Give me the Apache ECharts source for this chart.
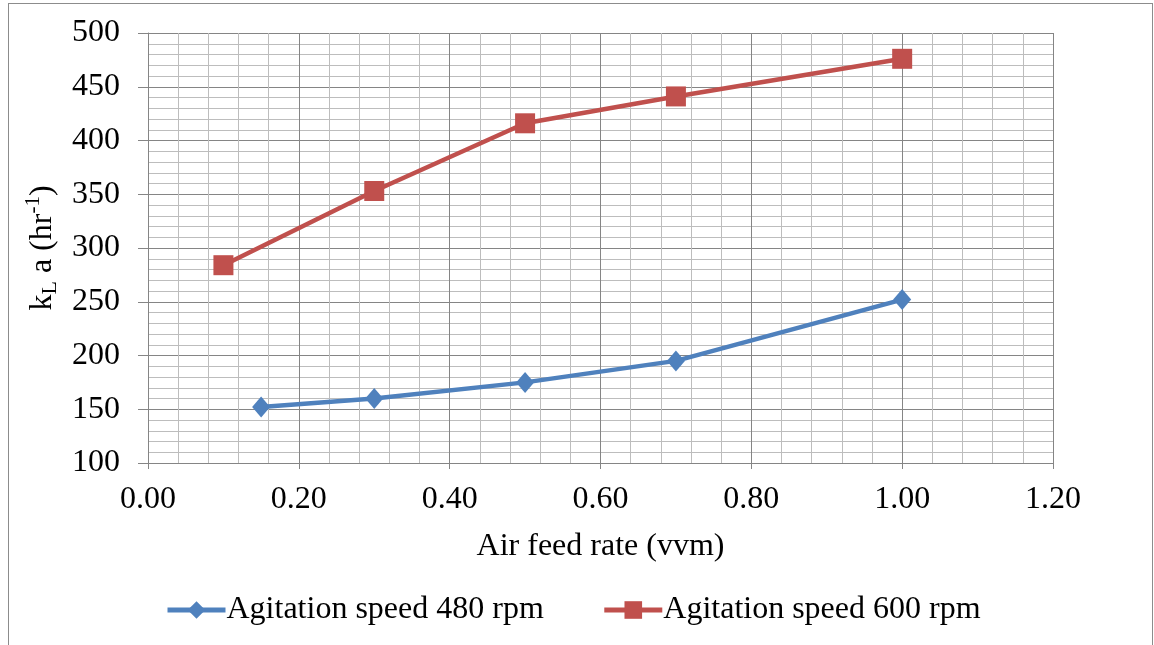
<!DOCTYPE html>
<html><head><meta charset="utf-8">
<script src="https://cdn.jsdelivr.net/npm/echarts@6/dist/echarts.min.js"></script>
<style>
html,body{margin:0;padding:0;background:#fff;overflow:hidden}
#frame{position:absolute;left:8px;top:3px;width:1145px;height:660px;border:1px solid #8c8c8c;box-sizing:border-box}
#c{position:absolute;left:0;top:0;width:1154px;height:645px}
</style></head>
<body>
<div id="frame"></div>
<div id="c"></div>
<script>
const seriesNames = ['Agitation speed 480 rpm', 'Agitation speed 600 rpm'];
const x480 = [0.15, 0.30, 0.50, 0.70, 1.00];
const y480 = [152, 160, 175, 195, 252];
const x600 = [0.10, 0.30, 0.50, 0.70, 1.00];
const y600 = [284, 353, 416, 441, 476];
const xTitle = 'Air feed rate (vvm)';

const font = 'Liberation Serif';
const fs = 32;
const chart = echarts.init(document.getElementById('c'), null, {renderer: 'canvas'});
const pair = (xs, ys) => xs.map((x, i) => [x, ys[i]]);

const majorLine = {show: true, lineStyle: {color: '#858585', width: 1}};
const minorLine = {show: true, lineStyle: {color: '#bdbdbd', width: 1}};

chart.setOption({
  animation: false,
  backgroundColor: 'transparent',
  grid: {left: 148, top: 33, right: 101, bottom: 182, containLabel: false},
  xAxis: {
    type: 'value', min: 0, max: 1.2, interval: 0.2,
    name: xTitle, nameLocation: 'middle', nameGap: 68,
    nameTextStyle: {fontFamily: font, fontSize: fs, color: '#000'},
    axisLine: {show: true, onZero: false, lineStyle: {color: '#858585', width: 1}},
    axisTick: {show: true, length: 6, lineStyle: {color: '#858585'}},
    axisLabel: {fontFamily: font, fontSize: fs, color: '#000', margin: 21,
      formatter: v => v.toFixed(2)},
    splitLine: majorLine,
    minorTick: {show: false, splitNumber: 5},
    minorSplitLine: minorLine
  },
  yAxis: {
    type: 'value', min: 100, max: 500, interval: 50,
    name: 'k{sub|L}{b| a (hr}{sup|-1}{b|)}', nameLocation: 'middle', nameGap: 84, nameRotate: 90,
    nameTextStyle: {
      fontFamily: font, fontSize: fs, color: '#000',
      rich: {
        b: {fontFamily: font, fontSize: fs, color: '#000', lineHeight: 38, verticalAlign: 'middle'},
        sub: {fontFamily: font, fontSize: 22, color: '#000', lineHeight: 38, verticalAlign: 'bottom', padding: [16, 0, 0, 0]},
        sup: {fontFamily: font, fontSize: 21, color: '#000', lineHeight: 38, verticalAlign: 'top', padding: [0, 0, 13, 0]}
      }
    },
    axisLine: {show: true, lineStyle: {color: '#858585', width: 1}},
    axisTick: {show: true, length: 10, lineStyle: {color: '#858585'}},
    axisLabel: {fontFamily: font, fontSize: fs, color: '#000', margin: 28},
    splitLine: majorLine,
    minorTick: {show: false, splitNumber: 5},
    minorSplitLine: minorLine
  },
  legend: {
    bottom: 14, left: 160,
    itemWidth: 58, itemHeight: 22, itemGap: 58,
    textStyle: {fontFamily: font, fontSize: fs, color: '#000', padding: [0, 0, 0, -4]},
    lineStyle: {width: 5},
    data: seriesNames
  },
  series: [
    {
      name: seriesNames[0], type: 'line', data: pair(x480, y480),
      symbol: 'diamond', symbolSize: [18, 21],
      lineStyle: {color: '#4f81bd', width: 4.5},
      itemStyle: {color: '#4f81bd'}, z: 3
    },
    {
      name: seriesNames[1], type: 'line', data: pair(x600, y600),
      symbol: 'rect', symbolSize: 20,
      lineStyle: {color: '#c0504d', width: 4.5},
      itemStyle: {color: '#c0504d'}, z: 4
    }
  ]
});
</script>
</body></html>
